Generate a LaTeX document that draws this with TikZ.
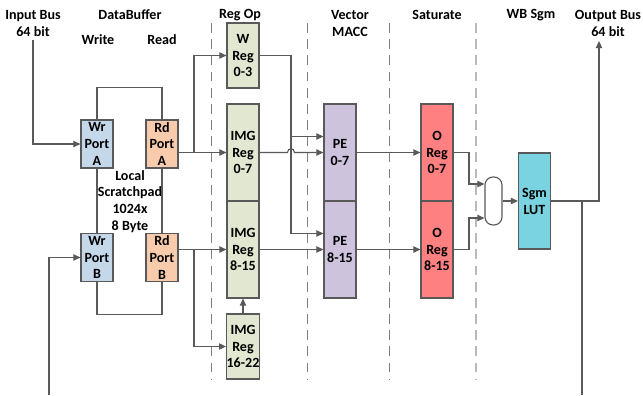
\documentclass[tikz,border=0pt]{standalone}
\usepackage{fontspec}
\setmainfont{Carlito}
\usetikzlibrary{arrows.meta,calc}
\definecolor{linegray}{RGB}{89,89,89}
\definecolor{wrblue}{RGB}{197,216,234}
\definecolor{rdorange}{RGB}{248,203,173}
\definecolor{reggreen}{RGB}{225,231,208}
\definecolor{pepurple}{RGB}{205,195,221}
\definecolor{ored}{RGB}{255,128,128}
\definecolor{lutcyan}{RGB}{122,211,224}

\begin{document}
\begin{tikzpicture}[x=0.025cm,y=-0.025cm,
    every node/.style={font=\bfseries\fontsize{10}{12}\selectfont, align=center},
    blk/.style={draw=linegray, line width=0.8pt, minimum width=0.8cm, inner sep=0pt},
    wrport/.style={blk, fill=wrblue, minimum height=1.2cm},
    rdport/.style={blk, fill=rdorange, minimum height=1.2cm},
    reg/.style={blk, fill=reggreen},
    pe/.style={blk, fill=pepurple, minimum height=2.425cm},
    oreg/.style={blk, fill=ored, minimum height=2.425cm},
    wire/.style={draw=linegray, line width=0.8pt},
    feed/.style={wire, -{Triangle[length=5pt,width=4.5pt]}},
    stage/.style={draw=gray, line width=0.7pt, dash pattern=on 7pt off 4.5pt}]
    \useasboundingbox (0,0) rectangle (643,395);

    % headings
    \node (inlbl) at (33,23.5) {Input Bus\\64 bit};
    \node (dblbl) at (130,15) {DataBuffer};
    \node (wrlbl) at (98,40) {Write};
    \node (rdlbl) at (162,40) {Read};
    \node (oplbl) at (240,15) {Reg Op};
    \node (maclbl) at (350,23.5) {Vector\\MACC};
    \node (satlbl) at (437,15) {Saturate};
    \node (wblbl) at (531,15) {WB Sgm};
    \node (outlbl) at (608,23.5) {Output Bus\\64 bit};

    % stage borders
    \foreach \x in {211,307,389}
        \draw[stage] (\x,23) -- (\x,380);
    \draw[stage, draw=gray!55, line width=1pt] (476,23) -- (476,380);

    % data buffer
    \node[wrport] (wra) at (97,144) {Wr\\Port\\A};
    \node[rdport] (rda) at (162,144) {Rd\\Port\\A};
    \node[wrport] (wrb) at (97,257.5) {Wr\\Port\\B};
    \node[rdport] (rdb) at (162,257.5) {Rd\\Port\\B};
    \node (pad) at (130,201.5) {Local\\Scratchpad\\1024x\\8 Byte};
    \draw[wire] (wra.north) -- ++(0,-32) -| (rda.north);
    \draw[wire] (wrb.south) -- ++(0,32) -| (rdb.south);
    \draw[wire] (wra.south) -- (wrb.north);
    \draw[wire] (rda.south) -- (rdb.north);

    % registers
    \node[reg, minimum height=1.625cm] (wreg) at (243,55.5) {W\\Reg\\0-3};
    \node[reg, minimum height=2.425cm] (imga) at (243,152.5) {IMG\\Reg\\0-7};
    \node[reg, minimum height=2.425cm] (imgb) at (243,249.5) {IMG\\Reg\\8-15};
    \node[reg, minimum height=1.625cm] (imgc) at (243,346.5) {IMG\\Reg\\16-22};

    \node[pe] (pea) at (340,152.5) {PE\\0-7};
    \node[pe] (peb) at (340,249.5) {PE\\8-15};

    \node[oreg] (oa) at (437,152.5) {O\\Reg\\0-7};
    \node[oreg] (ob) at (437,249.5) {O\\Reg\\8-15};

    \node[draw=linegray, line width=0.8pt, minimum width=0.425cm, minimum height=1.2cm,
          rounded corners=0.2cm, inner sep=0pt] (mux) at (493.5,201) {};
    \node[blk, fill=lutcyan, minimum height=2.4cm] (lut) at (534.5,201) {Sgm\\LUT};

    \coordinate (inbus) at (33,40);
    \coordinate (inbusb) at (49,395);
    \coordinate (ja) at (194,152.5);
    \coordinate (jb) at (194,249.5);
    \coordinate (wbus) at (291,0);
    \coordinate (hop) at (291,152.5);
    \coordinate (obus) at (469,0);
    \coordinate (outbus) at (599,41);
    \coordinate (fb) at (582,201);
    \coordinate (fbend) at (582,395);
    \coordinate (pein a) at ([yshift=4mm]pea.west);
    \coordinate (pein b) at ([yshift=4mm]peb.west);
    \coordinate (muxin a) at ([yshift=4.25mm]mux.west);
    \coordinate (muxin b) at ([yshift=-4.25mm]mux.west);

    % connections
    \draw[feed] (inbus) |- (wra.west);
    \draw[feed] (inbusb) |- (wrb.west);
    \draw[feed] (imga.west -| rda.east) -- (imga.west);
    \draw[feed] (ja) |- (wreg.west);
    \draw[feed] (imgb.west -| rdb.east) -- (imgb.west);
    \draw[feed] (jb) |- (imgc.west);
    \draw[feed] (imgc.north) -- (imgb.south);

    \draw[wire] (wreg.east) -| (wbus |- pein b);
    \draw[feed] (wbus |- pein a) -- (pein a);
    \draw[feed] (wbus |- pein b) -- (pein b);
    \draw[feed] (imga.east) -- ($(hop)-(3.5,0)$) .. controls +(0,-5) and +(0,-5) .. ($(hop)+(3.5,0)$) -- (pea.west);
    \draw[feed] (imgb.east) -- (peb.west);

    \draw[feed] (pea.east) -- (oa.west);
    \draw[feed] (peb.east) -- (ob.west);
    \draw[feed] (oa.east) -| (obus |- muxin a) -- (muxin a);
    \draw[feed] (ob.east) -| (obus |- muxin b) -- (muxin b);
    \draw[feed] (mux.east) -- (lut.west);
    \draw[feed] (lut.east) -| (outbus);
    \draw[wire] (fb) -- (fbend);
\end{tikzpicture}
\end{document}
